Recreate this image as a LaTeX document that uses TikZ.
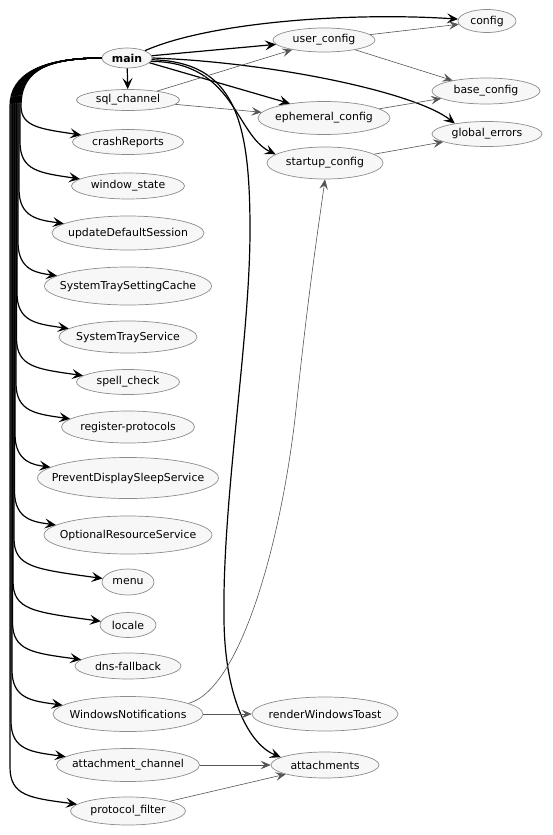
\documentclass[tikz,border=0pt]{standalone}
\usepackage{fontspec}
\setmainfont{DejaVu Sans}
\usetikzlibrary{shapes.geometric,arrows.meta}
\definecolor{nodefill}{HTML}{F7F7F7}
\definecolor{ring}{HTML}{8C8C8C}
\definecolor{thinline}{HTML}{555555}
% one ellipse: name, x, y, width, height, label
\newcommand\depnode[6]{\node[dep, minimum width=#4pt, minimum height=#5pt] (#1) at (#2,#3) {\makebox[0pt]{#6}};}
\begin{document}
\begin{tikzpicture}[x=1pt,y=-1pt,
  dep/.style={ellipse, draw=ring, fill=nodefill, line width=0.7pt, inner sep=0pt,
              font=\fontsize{10.9}{13}\selectfont},
  strong/.style={draw=black, line width=1.2pt, -{Stealth[length=11pt,width=10pt,inset=4.5pt]}},
  weak/.style={draw=thinline, line width=0.6pt, -{Stealth[length=10pt,width=8.5pt,inset=4pt]}},
]
\useasboundingbox (0,0) rectangle (552,835);

% left column
\depnode{main}{127}{58}{50}{20}{\textbf{main}}
\depnode{sql}{128}{100}{103}{21}{sql\_channel}
\depnode{crash}{128}{142}{111}{25}{crashReports}
\depnode{window}{128}{186}{113}{26}{window\_state}
\depnode{uds}{128}{233}{152}{34}{updateDefaultSession}
\depnode{stsc}{128}{286}{167}{38}{SystemTraySettingCache}
\depnode{sts}{128}{337}{138}{32}{SystemTrayService}
\depnode{spell}{128}{382}{103}{25}{spell\_check}
\depnode{reg}{128}{427}{133}{32}{register-protocols}
\depnode{pdss}{128}{478}{181}{41}{PreventDisplaySleepService}
\depnode{ors}{128}{535}{168}{38}{OptionalResourceService}
\depnode{menu}{128}{582}{52}{26}{menu}
\depnode{locale}{128}{625}{56}{25}{locale}
\depnode{dns}{128}{666}{106}{26}{dns-fallback}
\depnode{wn}{128}{714}{150}{35}{WindowsNotifications}
\depnode{ach}{128}{765}{143}{33}{attachment\_channel}
\depnode{pf}{128}{811}{115}{28}{protocol\_filter}

% middle column
\depnode{uc}{324}{40}{102}{24}{user\_config}
\depnode{eph}{324}{118}{132}{33}{ephemeral\_config}
\depnode{startup}{325}{163}{116}{32}{startup\_config}
\depnode{rwt}{325}{714}{146}{34}{renderWindowsToast}
\depnode{att}{325}{765}{108}{26}{attachments}

% right column
\depnode{config}{487}{21}{58}{23}{config}
\depnode{base}{486}{91}{108}{26}{base\_config}
\depnode{ge}{487}{134}{110}{25}{global\_errors}

% edges leaving main to the right
\draw[strong] (main.north east) .. controls (210,22) and (350,12) .. (config);
\draw[strong] (main) -- (uc);
\draw[strong] (main) -- (sql);
\draw[strong] (main.-12) -- (eph.157);
\draw[strong] (main.east) .. controls (270,62) and (415,92) .. (ge.162);
\draw[strong] (main.-8) .. controls (235,62) and (235,135) .. (startup.170);
\draw[strong] (main.-4) .. controls (235,62) and (250,120) .. (250,230)
   .. controls (250,340) and (222,500) .. (224,620)
   .. controls (225,700) and (250,745) .. (att.170);

% edges leaving main to the left, bundled down the margin
\foreach \n/\y/\k in {crash/142/21, window/186/20, uds/233/19, stsc/286/18,
    sts/337/17, spell/382/16.5, reg/427/16, pdss/478/15, ors/535/14.5,
    menu/582/14, locale/625/13, dns/666/12.5, wn/714/12, ach/765/11, pf/811/10}
{
  \pgfmathsetmacro\s{max(106,\y-44)}
  \draw[strong] (main.west) .. controls (40,58) and (\k,75) .. (\k,106)
     -- (\k,\s) .. controls (\k,\y-15) and (\k+20,\y-13) .. (\n);
}

% secondary dependencies
\draw[weak] (sql) -- (uc);
\draw[weak] (sql) -- (eph);
\draw[weak] (uc) -- (config);
\draw[weak] (uc) -- (base);
\draw[weak] (eph) -- (base);
\draw[weak] (startup) -- (ge);
\draw[weak] (wn.10) .. controls (240,690) and (283,540) .. (297,400)
   .. controls (310,280) and (318,230) .. (startup.south);
\draw[weak] (wn) -- (rwt);
\draw[weak] (ach) -- (att);
\draw[weak] (pf) -- (att);
\end{tikzpicture}
\end{document}
